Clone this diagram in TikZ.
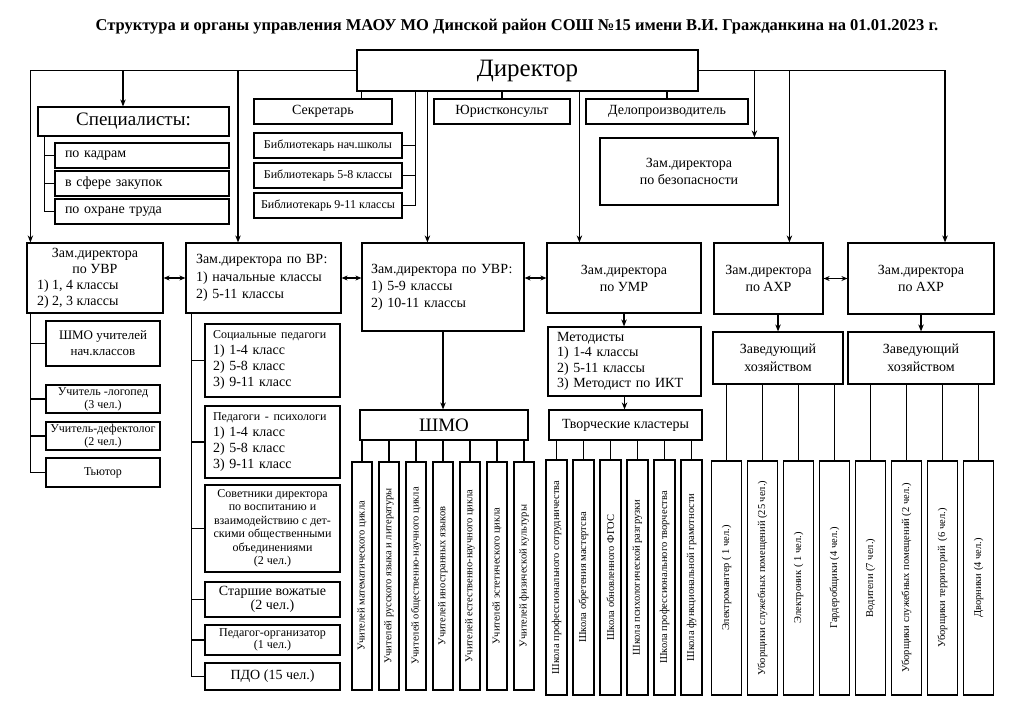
\documentclass[tikz,border=0pt]{standalone}
\usepackage{fontspec}
\setmainfont{Liberation Serif}
\usepackage{graphicx}
\usetikzlibrary{arrows.meta, positioning}

\newcommand{\fsz}[2]{\fontsize{#1}{#2}\selectfont}

\begin{document}
\begin{tikzpicture}[x=1pt, y=-1pt,
    box/.style={draw, line width=1.2pt, inner sep=0pt, align=center, font=\fsz{14}{17}},
    lbox/.style={box, align=left},
    tbox/.style={box, minimum height=25pt, font=\fsz{12}{14}},
    vbox/.style={box, font=\fsz{10.5}{12}},
    line/.style={line width=1.1pt},
    arr/.style={line, -{Stealth[length=7pt, width=5.5pt]}},
    dbl/.style={line, {Stealth[length=6pt, width=5pt]}-{Stealth[length=6pt, width=5pt]}}]
    \useasboundingbox (0,0) rectangle (1024,724);

    % title and director
    \node[font=\fsz{16.5}{18}\bfseries] (title) at (517,27) {Структура и органы управления МАОУ МО Динской район СОШ №15 имени В.И. Гражданкина на 01.01.2023 г.};
    \node[box, minimum width=341pt, minimum height=41pt, font=\fsz{25}{28}] (dir) at (527.5,70.5) {Директор};

    % staff under the director
    \node[box, minimum width=138pt, minimum height=25pt] (sec) at (323,111.5) {Секретарь};
    \node[box, minimum width=136pt, minimum height=25pt] (yur) at (502,111.5) {Юристконсульт};
    \node[box, minimum width=162pt, minimum height=25pt] (del) at (667,111.5) {Делопроизводитель};
    \node[tbox, minimum width=148pt] (lib1) at (328,145.5) {Библиотекарь нач.школы};
    \node[tbox, minimum width=148pt] (lib2) at (328,175.5) {Библиотекарь 5-8 классы};
    \node[tbox, minimum width=148pt] (lib3) at (328,205.5) {Библиотекарь 9-11 классы};
    \node[box, minimum width=178pt, minimum height=67pt] (bez) at (689,171.5) {Зам.директора\\по безопасности};

    \node[box, minimum width=191pt, minimum height=29pt, font=\fsz{19}{20}] (spec) at (133.5,121.5) {Специалисты:};
    \node[lbox, text width=154pt, inner xsep=10pt, minimum height=25pt] (kadr) at (142,155.5) {по кадрам};
    \node[lbox, text width=154pt, inner xsep=10pt, minimum height=25pt] (zakup) at (142,183.5) {в сфере закупок};
    \node[lbox, text width=154pt, inner xsep=10pt, minimum height=25pt] (ohr) at (142,211.5) {по охране труда};

    % deputies
    \node[box, minimum width=136pt, minimum height=70pt, font=\fsz{14}{16}] (uvr1) at (95,278) {Зам.директора\\по УВР\\\makebox[116pt][l]{1) 1, 4 классы}\\\makebox[116pt][l]{2) 2, 3 классы}};
    \node[lbox, text width=135pt, inner xsep=10pt, minimum height=70pt, font=\fsz{14}{17.5}] (vr) at (263.5,278) {Зам.директора по ВР:\\1) начальные классы\\2) 5-11 классы};
    \node[lbox, text width=144pt, inner xsep=9pt, minimum height=88pt] (uvr2) at (443,287) {Зам.директора по УВР:\\1) 5-9 классы\\2) 10-11 классы};
    \node[box, minimum width=154pt, minimum height=70pt] (umr) at (624,278) {Зам.директора\\по УМР};
    \node[box, minimum width=109pt, minimum height=71pt] (ahr1) at (768.5,278.5) {Зам.директора\\по АХР};
    \node[box, minimum width=146pt, minimum height=71pt] (ahr2) at (921,278.5) {Зам.директора\\по АХР};

    % under the first deputy
    \node[box, minimum width=114pt, minimum height=45pt, font=\fsz{13}{16}] (shmon) at (103,343.5) {ШМО учителей\\нач.классов};
    \node[box, minimum width=114pt, minimum height=28pt, font=\fsz{12}{13}] (logo) at (103,399) {Учитель -логопед\\(3 чел.)};
    \node[box, minimum width=114pt, minimum height=28pt, font=\fsz{12}{13}] (def) at (103,436) {Учитель-дефектолог\\(2 чел.)};
    \node[box, minimum width=114pt, minimum height=29pt, font=\fsz{12}{13}] (tut) at (103,472.5) {Тьютор};

    % under the deputy for upbringing
    \node[lbox, text width=119pt, inner xsep=8pt, minimum height=73pt, font=\fsz{14}{16}] (soc) at (272.5,360.5) {\mbox{\fsz{12}{16}Социальные педагоги}\\1) 1-4 класс\\2) 5-8 класс\\3) 9-11 класс};
    \node[lbox, text width=119pt, inner xsep=8pt, minimum height=72pt, font=\fsz{14}{16}] (psy) at (272.5,442) {\mbox{\fsz{12}{16}Педагоги - психологи}\\1) 1-4 класс\\2) 5-8 класс\\3) 9-11 класс};
    \node[box, minimum width=135pt, minimum height=87pt, font=\fsz{12}{13.5}] (sov) at (272.5,528.5) {Советники директора\\по воспитанию и\\взаимодействию с дет-\\скими общественными\\объединениями\\(2 чел.)};
    \node[box, minimum width=135pt, minimum height=35pt, font=\fsz{14}{14}] (vozh) at (272.5,599.5) {Старшие вожатые\\(2 чел.)};
    \node[box, minimum width=135pt, minimum height=30pt, font=\fsz{12}{12.5}] (org) at (272.5,640) {Педагог-организатор\\(1 чел.)};
    \node[box, minimum width=135pt, minimum height=27pt] (pdo) at (272.5,676.5) {ПДО (15 чел.)};

    % methodical work
    \node[box, minimum width=168pt, minimum height=30pt, font=\fsz{19}{20}] (shmo) at (444,425) {ШМО};
    \node[lbox, text width=135pt, inner xsep=9pt, minimum height=69pt, font=\fsz{14}{15.5}] (met) at (624.5,361.5) {Методисты\\1) 1-4 классы\\2) 5-11 классы\\3) Методист по ИКТ};
    \node[box, minimum width=153pt, minimum height=30pt] (tvk) at (625.5,425) {Творческие кластеры};

    % household
    \node[box, minimum width=130pt, minimum height=52pt, font=\fsz{14}{18}] (zh1) at (778,358) {Заведующий\\хозяйством};
    \node[box, minimum width=146pt, minimum height=52pt, font=\fsz{14}{18}] (zh2) at (921,358) {Заведующий\\хозяйством};

    \foreach \x/\t [count=\i] in {362/Учителей математического цикла, 389/Учителей русского языка и литературы, 416/Учителей общественно-научного цикла, 443/Учителей иностранных языков, 470/Учителей естественно-научного цикла, 497/Учителей эстетического цикла, 524/Учителей физической культуры} {
        \node[vbox, minimum width=20pt, minimum height=228pt] (m\i) at (\x,576) {\rotatebox{90}{\t}};
        \draw[line] (m\i.north) -- (m\i.north |- shmo.south);
    }
    \foreach \x/\t [count=\i] in {556.5/Школа профессионального сотрудничества, 583.5/Школа обретения мастертсва, 610.5/Школа обновленного ФГОС, 637.5/Школа психологической разгрузки, 664.5/Школа профессионального творчества, 691.5/Школа функциональной грамотности} {
        \node[vbox, minimum width=21pt, minimum height=235pt] (k\i) at (\x,577.5) {\rotatebox{90}{\t}};
        \draw[line] (k\i.north) -- (k\i.north |- tvk.south);
    }
    \foreach \x/\t [count=\i] in {726.5/Электромантер ( 1 чел.), 762.5/Уборщики служебных помещений (25 чел.), 798.5/Электроник ( 1 чел.), 834.5/Гардеробщики (4 чел.)} {
        \node[vbox, minimum width=30pt, minimum height=234pt] (h\i) at (\x,578) {\rotatebox{90}{\t}};
        \draw[line] (h\i.north) -- (h\i.north |- zh1.south);
    }
    \foreach \x/\t [count=\i from 5] in {870.5/Водители (7 чел.), 906.5/Уборщики служебных помещений (2 чел.), 942.5/Уборщики территорий\ \ (6 чел.), 978.5/Дворники (4 чел.)} {
        \node[vbox, minimum width=30pt, minimum height=234pt] (h\i) at (\x,578) {\rotatebox{90}{\t}};
        \draw[line] (h\i.north) -- (h\i.north |- zh2.south);
    }

    % lines from the director
    \path ([xshift=-10.5pt]spec.north) coordinate (a1)
          ([xshift=-25.5pt]vr.north) coordinate (a2)
          ([xshift=5pt]dir.south west) coordinate (d1)
          ([xshift=59pt]dir.south west) coordinate (d2)
          ([xshift=71pt]dir.south west) coordinate (d3)
          ([xshift=223pt]dir.south west) coordinate (d4)
          ([xshift=155pt]bez.north west) coordinate (b1)
          ([xshift=76pt]ahr1.north west) coordinate (b2);
    \draw[arr] (dir.west) -| ([xshift=4pt]uvr1.north west);
    \draw[arr] (a1 |- dir.west) -- (a1);
    \draw[arr] (a2 |- dir.west) -- (a2);
    \draw[arr] (dir.east) -| ([xshift=24pt]ahr2.north);
    \draw[arr] (b1 |- dir.east) -- (b1);
    \draw[arr] (b2 |- dir.east) -- (b2);
    \draw[line] (d1) -- (d1 |- sec.north);
    \draw[line] (yur.north |- dir.south) -- (yur.north);
    \draw[line] (del.north |- dir.south) -- (del.north);
    \draw[line] (d2) |- (lib1.east);
    \draw[line] (d2) |- (lib2.east);
    \draw[line] (d2) |- (lib3.east);
    \draw[arr] (d3) -- (d3 |- uvr2.north);
    \draw[arr] (d4) -- (d4 |- umr.north);

    % side branches
    \draw[line] ([xshift=7pt]spec.south west) |- (kadr.west);
    \draw[line] ([xshift=7pt]spec.south west) |- (zakup.west);
    \draw[line] ([xshift=7pt]spec.south west) |- (ohr.west);
    \foreach \n in {shmon, logo, def, tut}
        \draw[line] ([xshift=4pt]uvr1.south west) |- (\n.west);
    \foreach \n in {soc, psy, sov, vozh, org, pdo}
        \draw[line] ([xshift=6pt]vr.south west) |- (\n.west);

    % links between deputies
    \draw[dbl] (uvr1.east) -- (vr.west);
    \draw[dbl] (vr.east) -- (vr.east -| uvr2.west);
    \draw[dbl] (uvr2.east |- umr.west) -- (umr.west);
    \draw[dbl] (ahr1.east) -- (ahr2.west);
    \draw[arr] (uvr2.south) -- (uvr2.south |- shmo.north);
    \draw[arr] (umr.south) -- (umr.south |- met.north);
    \draw[arr] (met.south) -- (met.south |- tvk.north);
    \draw[arr] (zh1.north |- ahr1.south) -- (zh1.north);
    \draw[arr] (ahr2.south) -- (zh2.north);
\end{tikzpicture}
\end{document}
